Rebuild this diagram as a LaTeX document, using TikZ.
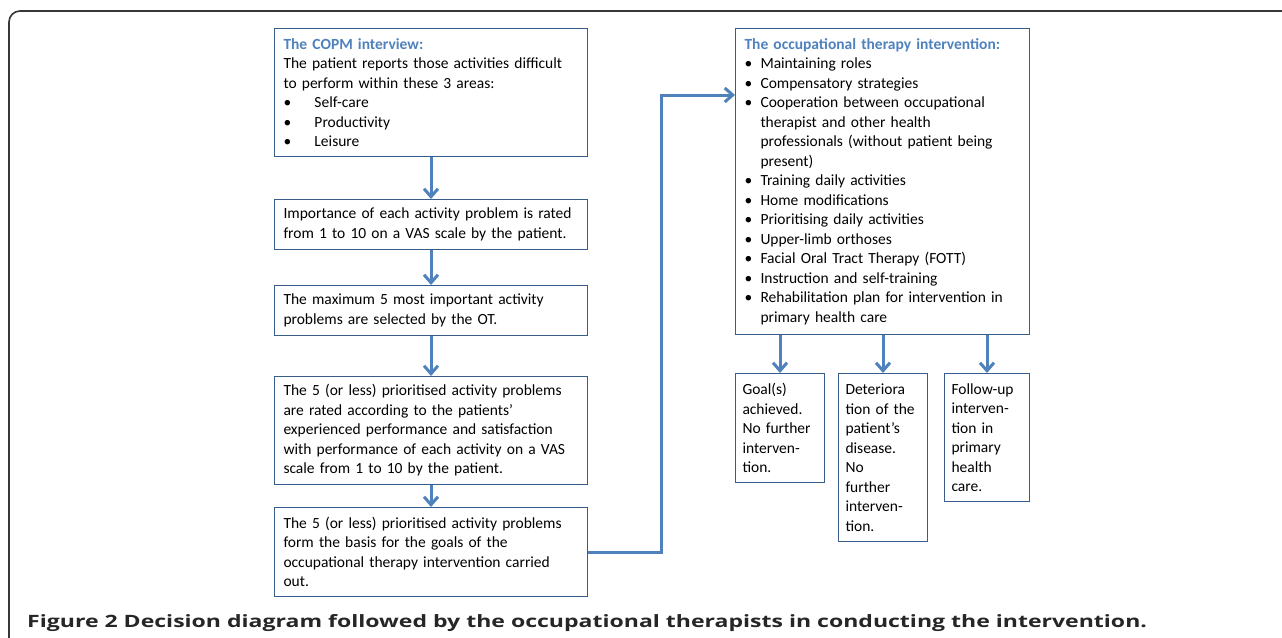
\documentclass[tikz,border=0pt]{standalone}
\usepackage{fontspec}
\setmainfont{Carlito}
\newfontfamily\capfont[FakeStretch=1.355]{Open Sans}
\usetikzlibrary{positioning, arrows.meta}
\definecolor{headblue}{RGB}{79,129,189}
\definecolor{edgeblue}{RGB}{56,93,138}
\definecolor{framegray}{RGB}{55,55,55}
\newcommand{\areabul}{\makebox[31pt][l]{\textbullet}}
\newcommand{\bul}{\makebox[16pt][l]{\textbullet}}
\newcommand{\hang}{\hspace*{16pt}}
\newcommand{\boxhead}[1]{{\bfseries\color{headblue}#1}}

\begin{document}
\begin{tikzpicture}[x=1pt, y=-1pt,
  stepbox/.style={draw=edgeblue, line width=1pt, rectangle, anchor=north west,
    inner xsep=9pt, inner ysep=0pt, align=left,
    font=\fontsize{15.5}{19.5}\selectfont},
  flow/.style={->, >={Straight Barb[length=8pt, width=14pt]}, draw=headblue, line width=3pt}]

\useasboundingbox (0,0) rectangle (1282,637);

% outer frame, open to the right and at the bottom
\draw [framegray, line width=1.6pt, rounded corners=11pt] (9,640) -- (9,11) -- (1290,11);

% left column
\node[stepbox, minimum width=313pt, text width=295pt, minimum height=128pt] at (274,28) (copm)
  {\boxhead{The COPM interview:}\\
   The patient reports those activities difficult\\
   to perform within these 3 areas:\\
   \areabul Self-care\\
   \areabul Productivity\\
   \areabul Leisure};
\node[stepbox, minimum width=313pt, text width=295pt, minimum height=50pt] at (274,199) (rate)
  {Importance of each activity problem is rated\\
   from 1 to 10 on a VAS scale by the patient.};
\node[stepbox, minimum width=313pt, text width=295pt, minimum height=50pt] at (274,285) (select)
  {The maximum 5 most important activity\\
   problems are selected by the OT.};
\node[stepbox, minimum width=313pt, text width=295pt, minimum height=108pt] at (274,376) (perf)
  {The 5 (or less) prioritised activity problems\\
   are rated according to the patients'\\
   experienced performance and satisfaction\\
   with performance of each activity on a VAS\\
   scale from 1 to 10 by the patient.};
\node[stepbox, minimum width=313pt, text width=295pt, minimum height=89pt] at (274,507) (basis)
  {The 5 (or less) prioritised activity problems\\
   form the basis for the goals of the\\
   occupational therapy intervention carried\\
   out.};

% right column
\node[stepbox, minimum width=294pt, text width=276pt, minimum height=306pt] at (735,28) (otint)
  {\boxhead{The occupational therapy intervention:}\\
   \bul Maintaining roles\\
   \bul Compensatory strategies\\
   \bul Cooperation between occupational\\
   \hang therapist and other health\\
   \hang professionals (without patient being\\
   \hang present)\\
   \bul Training daily activities\\
   \bul Home modifications\\
   \bul Prioritising daily activities\\
   \bul Upper-limb orthoses\\
   \bul Facial Oral Tract Therapy (FOTT)\\
   \bul Instruction and self-training\\
   \bul Rehabilitation plan for intervention in\\
   \hang primary health care};

\node[stepbox, minimum width=89pt, text width=75pt, inner xsep=7pt, minimum height=109pt] at (735,373) (goal)
  {Goal(s)\\ achieved.\\ No further\\ interven-\\ tion.};
\node[stepbox, minimum width=89pt, text width=75pt, inner xsep=7pt, minimum height=168pt] at (838,373) (worse)
  {Deteriora\\ tion of the\\ patient's\\ disease.\\ No\\ further\\ interven-\\ tion.};
\node[stepbox, minimum width=85pt, text width=71pt, inner xsep=7pt, minimum height=128pt] at (944,373) (follow)
  {Follow-up\\ interven-\\ tion in\\ primary\\ health\\ care.};

\draw [flow] (copm) to (rate);
\draw [flow] (rate) to (select);
\draw [flow] (select) to (perf);
\draw [flow] (perf) to (basis);

\coordinate (bend) at (661,95);
\draw [flow] (basis.east) -| (bend) -- (bend -| otint.west);

\draw [flow] (otint.south -| goal.north) to (goal.north);
\draw [flow] (otint.south -| worse.north) to (worse.north);
\draw [flow] (otint.south -| follow.north) to (follow.north);

\node[anchor=base west, inner sep=0pt, font=\capfont\bfseries\fontsize{17}{20}\selectfont, text=black!85] at (27,627) (caption)
  {Figure 2 Decision diagram followed by the occupational therapists in conducting the intervention.};

\end{tikzpicture}
\end{document}
